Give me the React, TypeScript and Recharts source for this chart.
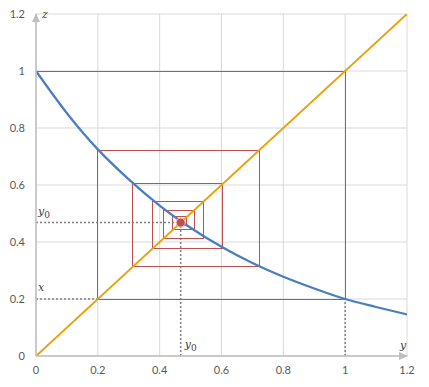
import { ComposedChart, Line, XAxis, YAxis, CartesianGrid, ReferenceDot } from 'recharts';

// axis ticks (both axes share the same range)
const TICKS = [0, 0.2, 0.4, 0.6, 0.8, 1, 1.2];

// decreasing curve z = f(y)
const CURVE_Y = [0, 0.1, 0.2, 0.3, 0.4, 0.5, 0.6, 0.7, 0.8, 0.9, 1.0, 1.1, 1.2];
const CURVE_Z = [1, 0.852, 0.725, 0.62, 0.528, 0.45, 0.383, 0.326, 0.278, 0.237, 0.2, 0.172, 0.146];

// diagonal z = y
const DIAG = [0, 1.2];

// cobweb iterates x0, x1, x2 ...
const ITERATES = [0, 1, 0.2, 0.722, 0.313, 0.604, 0.378, 0.543, 0.414, 0.512, 0.443, 0.488, 0.457, 0.479];

// fixed point and starting value
const Y0 = 0.468;
const X_START = 0.2;
const X_ONE = 1;

const RED = '#c0504d';
const BLUE = '#4a7ebf';
const ORANGE = '#e8a10f';
const DOT_GRAY = '#808080';
const AXIS_GRAY = '#bfbfbf';

const curveData = CURVE_Y.map((y, i) => ({ y, z: CURVE_Z[i] }));
const diagData = DIAG.map(v => ({ y: v, z: v }));

const cobwebData: { y: number; z: number }[] = [];
for (let n = 0; n < ITERATES.length - 1; n++) {
  cobwebData.push({ y: ITERATES[n], z: ITERATES[n + 1] });
  cobwebData.push({ y: ITERATES[n + 1], z: ITERATES[n + 1] });
}

const dottedLines = [
  [{ y: 0, z: X_START }, { y: X_START, z: X_START }],
  [{ y: 0, z: Y0 }, { y: Y0, z: Y0 }],
  [{ y: Y0, z: 0 }, { y: Y0, z: Y0 }],
  [{ y: X_ONE, z: 0 }, { y: X_ONE, z: X_START }],
];

const MATH_FONT = '"DejaVu Serif", serif';

// italic label with optional subscript, placed relative to a data point
function MathLabel(dx: number, dy: number, main: string, sub?: string) {
  return (p: any) => (
    <text x={p.cx + dx} y={p.cy + dy} fontFamily={MATH_FONT} fontSize={11} fill="#404040">
      <tspan fontStyle="italic">{main}</tspan>
      {sub && <tspan fontSize={9} dy={3}>{sub}</tspan>}
    </text>
  );
}

function ArrowRight(p: any) {
  const { cx, cy } = p;
  return <path d={`M${cx + 1},${cy} L${cx - 8},${cy - 4} L${cx - 8},${cy + 4} Z`} fill={AXIS_GRAY} />;
}

function ArrowUp(p: any) {
  const { cx, cy } = p;
  return <path d={`M${cx},${cy - 1} L${cx - 4},${cy + 8} L${cx + 4},${cy + 8} Z`} fill={AXIS_GRAY} />;
}

export default function App() {
  return (
    <div style={{ position: 'absolute', left: 0, top: 0, background: '#fff' }}>
      <ComposedChart width={429} height={387} margin={{ top: 14, right: 22, bottom: 0, left: 0 }}>
        <CartesianGrid stroke="#d9d9d9" strokeWidth={1} />
        <XAxis
          type="number"
          dataKey="y"
          domain={[0, 1.2]}
          ticks={TICKS}
          height={31}
          tickLine={false}
          tickSize={0}
          tickMargin={10}
          axisLine={{ stroke: AXIS_GRAY, strokeWidth: 1.5 }}
          tick={{ fill: '#595959', fontSize: 11, fontFamily: 'Lato, sans-serif' }}
          allowDataOverflow
        />
        <YAxis
          type="number"
          dataKey="z"
          domain={[0, 1.2]}
          ticks={TICKS}
          width={36}
          tickLine={false}
          tickSize={0}
          tickMargin={11}
          axisLine={{ stroke: AXIS_GRAY, strokeWidth: 1.5 }}
          tick={{ fill: '#595959', fontSize: 11, fontFamily: 'Lato, sans-serif' }}
          allowDataOverflow
        />

        {dottedLines.map((d, i) => (
          <Line
            key={`dot${i}`}
            data={d}
            dataKey="z"
            type="linear"
            stroke={DOT_GRAY}
            strokeWidth={1.5}
            strokeDasharray="2 2"
            dot={false}
            activeDot={false}
            isAnimationActive={false}
          />
        ))}

        <Line
          data={cobwebData}
          dataKey="z"
          type="linear"
          stroke={RED}
          strokeWidth={1}
          shapeRendering="crispEdges"
          dot={false}
          activeDot={false}
          isAnimationActive={false}
        />
        <Line
          data={curveData}
          dataKey="z"
          type="monotone"
          stroke={BLUE}
          strokeWidth={2.25}
          dot={false}
          activeDot={false}
          isAnimationActive={false}
        />
        <Line
          data={diagData}
          dataKey="z"
          type="linear"
          stroke={ORANGE}
          strokeWidth={2}
          dot={false}
          activeDot={false}
          isAnimationActive={false}
        />

        <ReferenceDot x={Y0} y={Y0} r={4.5} fill={RED} stroke="#f2c4c3" strokeWidth={1} />

        <ReferenceDot x={1.2} y={0} r={0} shape={ArrowRight} />
        <ReferenceDot x={0} y={1.2} r={0} shape={ArrowUp} />

        <ReferenceDot x={0} y={Y0} r={0} shape={MathLabel(2, -8, 'y', '0')} />
        <ReferenceDot x={0} y={X_START} r={0} shape={MathLabel(2, -8, 'x')} />
        <ReferenceDot x={Y0} y={0} r={0} shape={MathLabel(4, -8, 'y', '0')} />
        <ReferenceDot x={1.2} y={0} r={0} shape={MathLabel(-7, -7, 'y')} />
        <ReferenceDot x={0} y={1.2} r={0} shape={MathLabel(6, 4, 'z')} />
      </ComposedChart>
    </div>
  );
}
